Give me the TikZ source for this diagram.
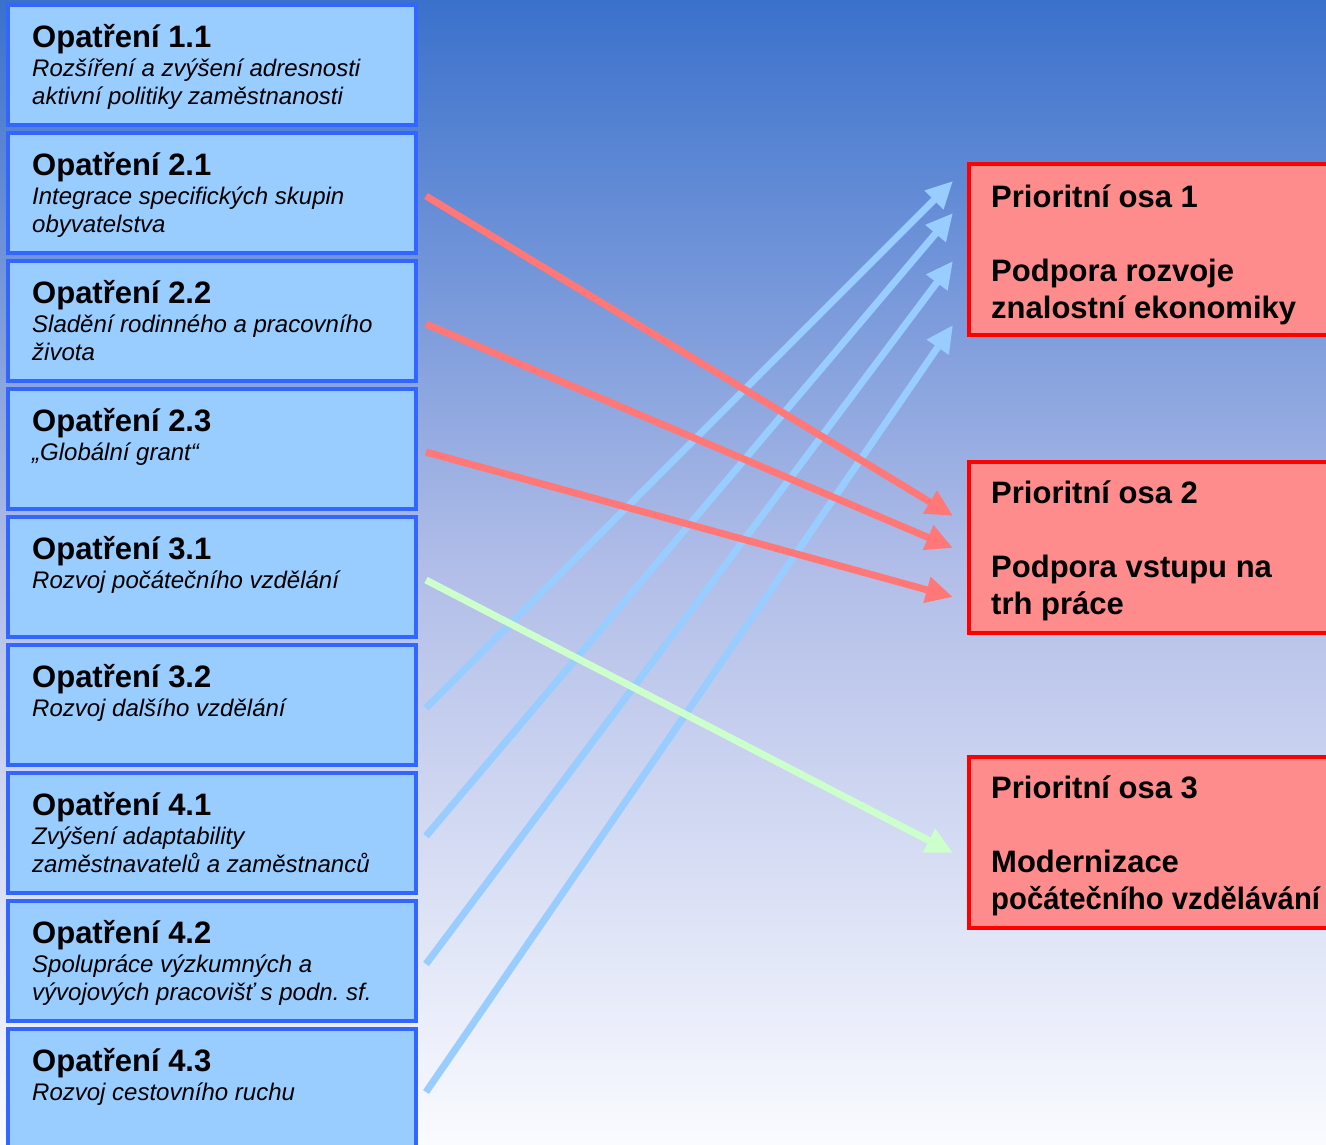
\documentclass[tikz,border=0pt]{standalone}
\usepackage{fontspec}
\setmainfont{Liberation Sans}
\usetikzlibrary{arrows.meta}
\frenchspacing
\definecolor{boxblue}{RGB}{153,204,255}
\definecolor{edgeblue}{RGB}{51,102,255}
\definecolor{boxred}{RGB}{255,140,140}
\definecolor{arrowred}{RGB}{255,119,119}
\definecolor{arrowgreen}{RGB}{204,255,204}
\definecolor{bgtop}{RGB}{58,113,204}
\definecolor{bgmid}{RGB}{178,190,232}
\definecolor{bgbottom}{RGB}{250,251,255}
\newcommand{\measuretext}[2]{\parbox[t]{390pt}{{\fontsize{31}{37}\selectfont\bfseries #1\par}\vspace{1pt}{\fontsize{24}{28}\selectfont\itshape #2\par}}}
\newcommand{\osatext}[2]{\parbox[t]{345pt}{\fontsize{31}{37}\selectfont\bfseries #1\par\vspace{37pt}#2\par}}
\tikzset{%
  measure/.style={draw=edgeblue, fill=boxblue, line width=4pt, minimum width=408pt, minimum height=120pt, inner sep=0pt},
  measure label/.style={anchor=base west, inner sep=0pt},
  osa box/.style={draw=red, fill=boxred, line width=4pt, minimum width=380pt, minimum height=171pt, inner sep=0pt},
  link/.style={line width=7pt, -{Triangle[length=27pt,width=25pt]}}
}

\begin{document}
\begin{tikzpicture}[x=1pt, y=-1pt]
      \clip (0, 0) rectangle (1326, 1144);
      \shade[top color=bgtop, bottom color=bgbottom, middle color=bgmid] (0, 0) rectangle (1326, 1144);

      % left column
      \node[measure] (m11) at (212, 65) {};
      \node[measure] (m21) at (212, 193) {};
      \node[measure] (m22) at (212, 321) {};
      \node[measure] (m23) at (212, 449) {};
      \node[measure] (m31) at (212, 577) {};
      \node[measure] (m32) at (212, 705) {};
      \node[measure] (m41) at (212, 833) {};
      \node[measure] (m42) at (212, 961) {};
      \node[measure] (m43) at (212, 1089) {};

      \node[measure label] (t11) at (32, 47) {\measuretext{Opatření 1.1}{Rozšíření a zvýšení adresnosti\\aktivní politiky zaměstnanosti}};
      \node[measure label] (t21) at (32, 175) {\measuretext{Opatření 2.1}{Integrace specifických skupin\\obyvatelstva}};
      \node[measure label] (t22) at (32, 303) {\measuretext{Opatření 2.2}{Sladění rodinného a pracovního\\života}};
      \node[measure label] (t23) at (32, 431) {\measuretext{Opatření 2.3}{„Globální grant“}};
      \node[measure label] (t31) at (32, 559) {\measuretext{Opatření 3.1}{Rozvoj počátečního vzdělání}};
      \node[measure label] (t32) at (32, 687) {\measuretext{Opatření 3.2}{Rozvoj dalšího vzdělání}};
      \node[measure label] (t41) at (32, 815) {\measuretext{Opatření 4.1}{Zvýšení adaptability\\zaměstnavatelů a zaměstnanců}};
      \node[measure label] (t42) at (32, 943) {\measuretext{Opatření 4.2}{Spolupráce výzkumných a\\vývojových pracovišť s podn. sf.}};
      \node[measure label] (t43) at (32, 1071) {\measuretext{Opatření 4.3}{Rozvoj cestovního ruchu}};

      % priority axes
      \node[osa box] (p1) at (1159, 249.5) {};
      \node[osa box] (p2) at (1159, 547) {};
      \node[osa box] (p3) at (1159, 842) {};

      \node[measure label] (q1) at (991, 207) {\osatext{Prioritní osa 1}{Podpora rozvoje\\znalostní ekonomiky}};
      \node[measure label] (q2) at (991, 503) {\osatext{Prioritní osa 2}{Podpora vstupu na\\trh práce}};
      \node[measure label] (q3) at (991, 798) {\osatext{Prioritní osa 3}{Modernizace\\\scalebox{0.945}[1]{počátečního vzdělávání}}};

      % connectors
      \draw[link, boxblue] ([xshift=8pt, yshift=-3pt]m32.east) -- ([xshift=-14pt, yshift=68.5pt]p1.west);
      \draw[link, boxblue] ([xshift=8pt, yshift=-3pt]m41.east) -- ([xshift=-14pt, yshift=36.5pt]p1.west);
      \draw[link, boxblue] ([xshift=8pt, yshift=-3pt]m42.east) -- ([xshift=-14pt, yshift=-11.5pt]p1.west);
      \draw[link, boxblue] ([xshift=8pt, yshift=-3pt]m43.east) -- ([xshift=-14pt, yshift=-75.5pt]p1.west);

      \draw[link, arrowgreen] ([xshift=8pt, yshift=-3pt]m31.east) -- ([xshift=-14pt, yshift=-11pt]p3.west);

      \draw[link, arrowred] ([xshift=8pt, yshift=-3pt]m21.east) -- ([xshift=-14pt, yshift=31pt]p2.west);
      \draw[link, arrowred] ([xshift=8pt, yshift=-3pt]m22.east) -- ([xshift=-14pt, yshift=-1pt]p2.west);
      \draw[link, arrowred] ([xshift=8pt, yshift=-3pt]m23.east) -- ([xshift=-14pt, yshift=-50pt]p2.west);
    \end{tikzpicture}
\end{document}
